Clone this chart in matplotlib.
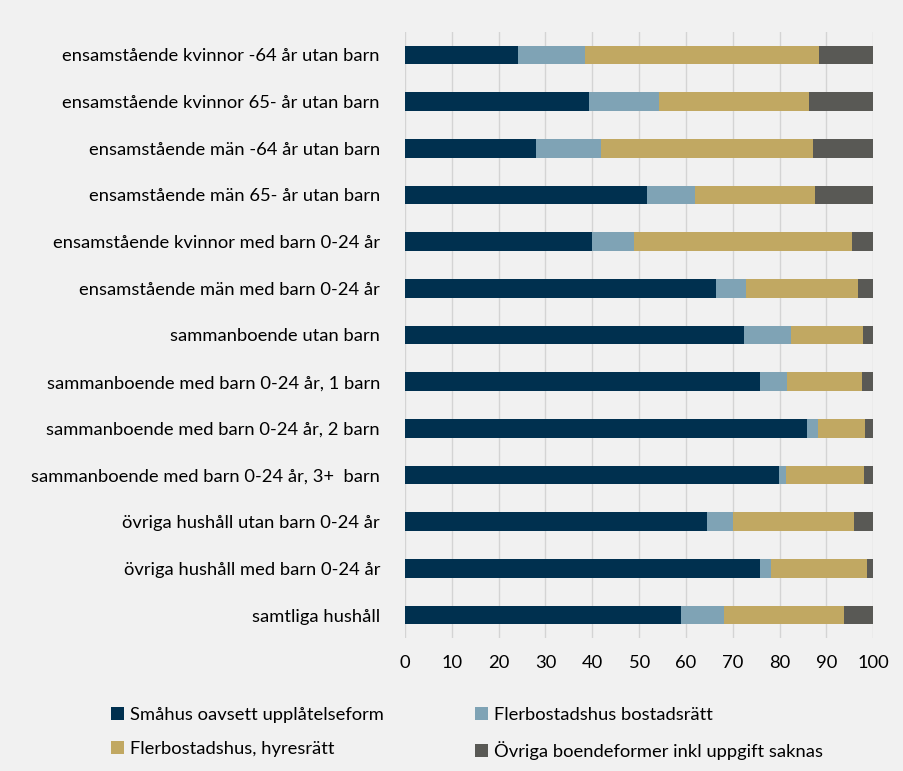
import numpy as np
import matplotlib.pyplot as plt

plt.rcParams['font.family'] = ['Lato', 'DejaVu Sans']

# kategorier, uppifrån och ner
categories = [
    'ensamstående kvinnor -64 år utan barn',
    'ensamstående kvinnor 65- år utan barn',
    'ensamstående män -64 år utan barn',
    'ensamstående män 65- år utan barn',
    'ensamstående kvinnor med barn 0-24 år',
    'ensamstående män med barn 0-24 år',
    'sammanboende utan barn',
    'sammanboende med barn 0-24 år, 1 barn',
    'sammanboende med barn 0-24 år, 2 barn',
    'sammanboende med barn 0-24 år, 3+  barn',
    'övriga hushåll utan barn 0-24 år',
    'övriga hushåll med barn 0-24 år',
    'samtliga hushåll',
]

smahus = [24.1, 39.3, 27.9, 51.7, 39.9, 66.4, 72.4, 75.9, 85.8, 79.9, 64.4, 75.8, 58.9]
bostadsratt = [14.3, 14.9, 14.0, 10.3, 8.9, 6.4, 10.1, 5.7, 2.5, 1.4, 5.6, 2.4, 9.3]
hyresratt = [50.1, 32.1, 45.2, 25.5, 46.6, 24.0, 15.3, 16.1, 9.9, 16.7, 25.8, 20.5, 25.5]
ovriga = [11.5, 13.7, 12.9, 12.5, 4.6, 3.2, 2.2, 2.3, 1.8, 2.0, 4.2, 1.3, 6.3]

series_names = ['Småhus oavsett upplåtelseform', 'Flerbostadshus bostadsrätt',
                'Flerbostadshus, hyresrätt', 'Övriga boendeformer inkl uppgift saknas']
colors = ['#00304f', '#7fa3b5', '#c1a862', '#595955']
bg = '#f1f1f1'

fig = plt.figure(figsize=(9.04, 7.71), dpi=100, facecolor=bg)
ax = fig.add_axes([0.448, 0.172, 0.518, 0.787])
ax.set_facecolor(bg)

y = np.arange(len(categories))
left = np.zeros(len(categories))
for vals, name, c in zip([smahus, bostadsratt, hyresratt, ovriga], series_names, colors):
    ax.barh(y, vals, left=left, height=0.4, color=c, label=name)
    left += np.array(vals)

ax.set_yticks(y)
ax.set_yticklabels(categories, fontsize=13.2)
ax.set_ylim(len(categories) - 0.5, -0.5)
ax.set_xlim(0, 100)
ax.set_xticks(np.arange(0, 101, 10))
ax.tick_params(axis='x', labelsize=13.2, length=0, pad=12)
ax.tick_params(axis='y', length=0, pad=18)
ax.grid(axis='x', color='#d4d4d4', lw=1)
ax.set_axisbelow(True)
for s in ax.spines.values():
    s.set_visible(False)

handles, labels = ax.get_legend_handles_labels()
# legenden fylls kolumnvis, så byt ordning för radvis läsning
order = [0, 2, 1, 3]
fig.legend([handles[i] for i in order], [labels[i] for i in order], ncol=2,
           loc='upper left', bbox_to_anchor=(0.105, 0.105),
           frameon=False, fontsize=13.2, handlelength=0.7, handleheight=0.7,
           handletextpad=0.3, columnspacing=5.0, labelspacing=1.0)

fig.savefig('out.png', dpi=100, facecolor=bg)
